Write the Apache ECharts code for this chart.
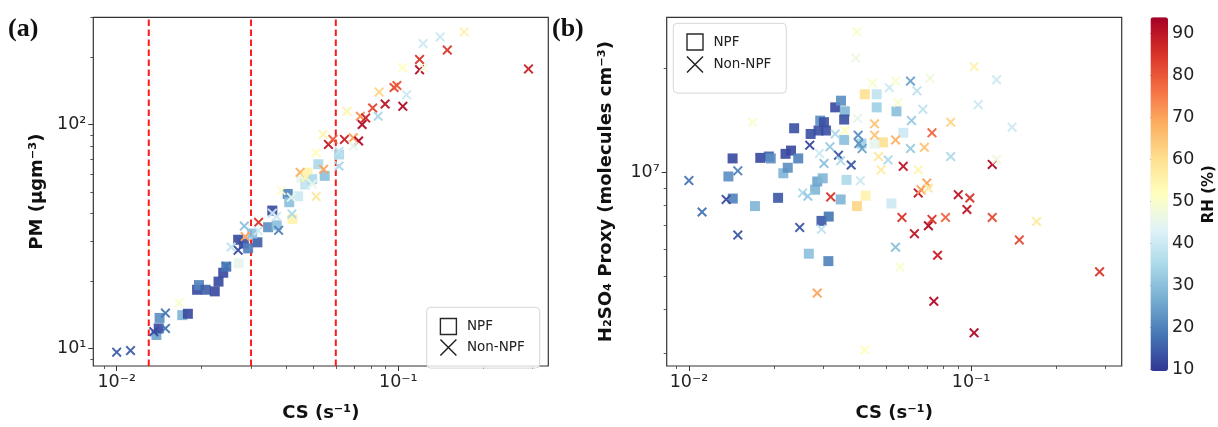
<!DOCTYPE html>
<html><head><meta charset="utf-8">
<script src="https://cdn.jsdelivr.net/npm/echarts@6/dist/echarts.min.js"></script>
<style>html,body{margin:0;padding:0;background:#fff}#c{width:1218px;height:427px}</style>
</head><body><div id="c"></div>
<script>
// ---------- Panel (a): PM vs CS ----------
const aNpfCS = [0.01384,0.0141,0.0142,0.0171,0.0179,0.0193,0.0196,0.0207,0.0223,0.0230,0.0239,0.0245,0.0271,0.0270,0.0283,0.0293,0.0316,0.0303,0.0345,0.0357,0.0370,0.0405,0.0421,0.0410,0.0453,0.0476,0.0520,0.0548,0.0616,0.0441,0.0467,0.0495];
const aNpfPM = [11.5,12.3,13.7,14.1,14.3,18.3,19.2,18.3,18.0,19.9,21.8,23.2,24.0,30.6,29.4,28.0,29.8,32.6,34.8,41.3,35.5,49.0,37.9,45.0,58.0,61.0,66.5,59.0,73.5,47.8,54.0,57.0];
const aNpfRH = [25,12,22,28,12,12,20,15,12,12,12,18,45,12,13,20,15,30,22,12,30,20,55,30,45,55,35,30,35,40,38,35];

const aNonCS = [0.0100,0.0112,0.01355,0.0149,0.0149,0.01667,0.0245,0.0255,0.0270,0.0284,0.0286,0.0319,0.0318,0.0357,0.0376,0.0370,0.0384,0.0419,0.0417,0.0448,0.0470,0.0511,0.0511,0.0495,0.0541,0.0543,0.0565,0.0586,0.0616,0.0644,0.0692,0.0723,0.0658,0.0733,0.0744,0.0766,0.0811,0.0848,0.0855,0.0898,0.0966,0.0989,0.1038,0.107,0.1038,0.119,0.119,0.123,0.1225,0.1408,0.1493,0.1715,0.29,0.0692,0.0616];
const aNonPM = [9.64,9.8,11.9,14.4,12.3,16.0,23.3,28.4,27.5,35.2,31.6,36.6,33.6,40.2,33.7,38.9,50.7,39.9,47.3,61.1,58.0,47.7,74.8,54.2,90.3,63.1,81.5,85.8,65.3,85.8,87.3,84.4,114.6,108.9,100,107,118.5,108.9,139.6,123.5,146.3,149.3,120.6,135.8,179.6,195.3,175.4,179.6,230,246,214.9,259,177,80,76];
const aNonRH = [15,15,12,18,18,50,18,38,12,30,70,85,40,40,20,40,50,35,45,68,55,58,52,45,55,70,90,80,35,88,70,92,55,72,92,88,82,35,62,90,82,80,92,40,52,85,92,48,40,40,85,55,88,45,38];

// ---------- Panel (b): H2SO4 proxy vs CS ----------
const bNpfCS = [0.01428,0.0138,0.0143,0.01714,0.0179,0.0192,0.0195,0.0207,0.0216,0.0220,0.0224,0.0230,0.0236,0.0244,0.0266,0.0270,0.0280,0.0285,0.0292,0.0288,0.0301,0.0306,0.0298,0.0295,0.0313,0.0312,0.0330,0.0346,0.0357,0.0355,0.0355,0.0345,0.0362,0.0420,0.0423,0.0394,0.0463,0.0463,0.0487,0.0544,0.0522,0.0575,0.0409,0.0455];
const bNpfH = [1.096e7,9.72e6,8.39e6,7.98e6,1.10e7,1.11e7,1.096e7,8.43e6,9.93e6,1.13e7,1.03e7,1.155e7,1.34e7,1.096e7,5.81e6,1.29e7,8.9e6,9.4e6,1.41e7,1.32e7,1.395e7,1.32e7,9.6e6,7.23e6,7.44e6,5.53e6,1.54e7,1.61e7,1.50e7,1.42e7,1.24e7,8.34e6,9.5e6,1.68e7,8.55e6,7.98e6,1.68e7,1.54e7,1.22e7,1.50e7,8.12e6,1.30e7,1.21e7,1.21e7];
const bNpfRH = [12,22,20,28,12,15,22,14,28,12,22,12,13,20,30,13,28,25,22,13,13,13,28,14,18,20,12,22,28,13,30,28,35,60,55,62,38,33,60,30,40,40,33,45];

const bNonCS = [0.0100,0.01113,0.01355,0.0149,0.0149,0.0168,0.0247,0.0253,0.0264,0.0268,0.0285,0.0290,0.0295,0.0301,0.0318,0.0316,0.0330,0.0339,0.0345,0.0357,0.0376,0.0398,0.0400,0.0411,0.0394,0.0390,0.0396,0.0420,0.0405,0.0447,0.0455,0.0455,0.0470,0.0480,0.0513,0.0508,0.0540,0.0540,0.0540,0.0559,0.0550,0.0569,0.0575,0.0610,0.0615,0.0610,0.0630,0.0643,0.0650,0.0650,0.0665,0.0675,0.0683,0.0697,0.0706,0.0706,0.0727,0.0715,0.0727,0.0738,0.0761,0.0812,0.0847,0.0847,0.0901,0.0967,0.0990,0.1025,0.1025,0.1060,0.1189,0.1189,0.1232,0.1232,0.1398,0.1483,0.1707,0.2855];
const bNonH = [9.46e6,7.67e6,8.34e6,1.009e7,6.58e6,1.395e7,6.92e6,8.71e6,8.52e6,1.197e7,4.47e6,1.133e7,6.84e6,1.06e7,8.48e6,1.184e7,1.29e7,1.12e7,1.08e7,1.32e7,1.049e7,1.28e7,1.21e7,1.17e7,2.55e7,2.14e7,1.43e7,3.06e6,9.45e6,1.81e7,1.38e7,1.28e7,1.11e7,1.016e7,1.756e7,1.085e7,1.835e7,1.24e7,6.07e6,5.32e6,1.59e7,7.4e6,1.04e7,1.835e7,1.41e7,1.17e7,6.64e6,1.72e7,1.016e7,8.71e6,8.9e6,1.52e7,1.18e7,9.3e6,9.0e6,7.0e6,7.3e6,1.87e7,1.30e7,4.23e6,5.75e6,7.4e6,1.395e7,1.11e7,8.61e6,7.8e6,8.42e6,3.43e6,2.02e7,1.568e7,1.053e7,7.4e6,1.09e7,1.85e7,1.35e7,6.37e6,7.2e6,5.15e6];
const bNonRH = [18,18,12,20,14,50,14,35,32,12,70,40,38,30,85,32,35,14,35,52,14,22,22,25,50,47,45,52,40,50,65,65,58,57,40,35,50,68,30,50,50,85,90,25,32,32,90,38,55,90,70,38,65,70,58,92,85,47,78,92,88,78,62,35,90,90,85,92,55,40,92,82,47,40,40,82,57,85];

// ---------- Axes / ticks ----------
const xRange = [0.00826, 0.341];
const xRangeB = [0.00834, 0.342];
const aYRange = [8.36, 301];
const bYRange = [2.75e6, 2.806e7];
const xTickVals = [0.01, 0.1];
const xTickLabels = ['10⁻²', '10⁻¹'];
const aYTickVals = [10, 100];
const aYTickLabels = ['10¹', '10²'];
const bYTickVals = [1e7];
const bYTickLabels = ['10⁷'];
const xMinor = [0.009,0.02,0.03,0.04,0.05,0.06,0.07,0.08,0.09,0.2,0.3];
const aYMinor = [9,20,30,40,50,60,70,80,90,200,300];
const bYMinor = [3e6,4e6,5e6,6e6,7e6,8e6,9e6,2e7];
const csThresholds = [0.013, 0.03, 0.06];
const rhRange = [9.6, 93.8];
const rhTicks = [10,20,30,40,50,60,70,80,90];
const rhColors = ['#313695','#4575b4','#74add1','#abd9e9','#e0f3f8','#ffffbf','#fee090','#fdae61','#f46d43','#d73027','#a50026'];

function zip3(a,b,c){ return a.map((v,i)=>[v,b[i],c[i]]); }
function lbl(vals, labels){ return function(v){ let best=0,d=1e9; vals.forEach((t,i)=>{const dd=Math.abs(Math.log10(t)-Math.log10(v)); if(dd<d){d=dd;best=i;}}); return labels[best]; }; }

const xPath = 'path://M1.4,0L5,3.6L8.6,0L10,1.4L6.4,5L10,8.6L8.6,10L5,6.4L1.4,10L0,8.6L3.6,5L0,1.4Z';
const legSq = 'path://M0,0L10,0L10,10L0,10Z';
const legX = 'path://M0,0L10,10M10,0L0,10';

const FONT = 'DejaVu Sans';
const tickLabel = {fontFamily: FONT, fontSize: 17.5, color: '#222'};
const nameStyle = {fontFamily: FONT, fontSize: 18, fontWeight: 'bold', color: '#111'};

function mainLog(grid, range, vals, labels, extra){
  return Object.assign({
    type: 'log', logBase: 10, gridIndex: grid, min: range[0], max: range[1],
    axisLine: {show: false},
    axisTick: {show: true, length: 5, customValues: vals, lineStyle: {color: '#333', width: 1}},
    axisLabel: Object.assign({show: true, customValues: vals, formatter: lbl(vals, labels), margin: 7}, tickLabel),
    splitLine: {show: false}, minorTick: {show: false}
  }, extra);
}
function minorLog(grid, range, vals, pos){
  return {
    type: 'log', logBase: 10, gridIndex: grid, min: range[0], max: range[1], position: pos,
    axisLine: {show: false},
    axisTick: {show: true, length: 3, customValues: vals, lineStyle: {color: '#333', width: 0.8}},
    axisLabel: {show: false}, splitLine: {show: false}
  };
}

const legendBase = {
  orient: 'vertical', itemWidth: 27, itemHeight: 16, symbolKeepAspect: true, selectedMode: false,
  backgroundColor: 'rgba(255,255,255,0.8)', borderColor: '#d6d6d6', borderWidth: 1, borderRadius: 4,
  textStyle: {fontFamily: FONT, fontSize: 13.5, color: '#222'},
  data: [
    {name: 'NPF', icon: legSq, itemStyle: {color: 'rgba(0,0,0,0)', borderColor: '#111', borderWidth: 1.4}},
    {name: 'Non-NPF', icon: legX, itemStyle: {color: 'rgba(0,0,0,0)', borderColor: '#111', borderWidth: 1.4}}
  ]
};

const thresholdSeries = csThresholds.map(v => ({
  name: 'CS threshold ' + v, type: 'line', xAxisIndex: 0, yAxisIndex: 0, silent: true,
  symbol: 'none', data: [[v, aYRange[0]], [v, aYRange[1]]], z: 1,
  lineStyle: {color: '#ff1a1a', type: [6.5, 3.5], width: 2}
}));

const option = {
  animation: false,
  backgroundColor: '#fff',
  grid: [
    {left: 93.3, top: 17.3, width: 455, height: 355.4, show: true, borderColor: '#333', borderWidth: 1.2, backgroundColor: 'transparent', containLabel: false},
    {left: 666.7, top: 17.3, width: 455, height: 354.7, show: true, borderColor: '#333', borderWidth: 1.2, backgroundColor: 'transparent', containLabel: false},
    {left: 1150.5, top: 17.3, width: 17.5, height: 353.7, show: false}
  ],
  xAxis: [
    mainLog(0, xRange, xTickVals, xTickLabels, {position: 'bottom', name: 'CS (s⁻¹)', nameLocation: 'middle', nameGap: 38, nameTextStyle: nameStyle}),
    minorLog(0, xRange, xMinor, 'bottom'),
    mainLog(1, xRangeB, xTickVals, xTickLabels, {position: 'bottom', name: 'CS (s⁻¹)', nameLocation: 'middle', nameGap: 38, nameTextStyle: nameStyle}),
    minorLog(1, xRangeB, xMinor, 'bottom'),
    {type: 'value', gridIndex: 2, show: false, min: 0, max: 1}
  ],
  yAxis: [
    mainLog(0, aYRange, aYTickVals, aYTickLabels, {position: 'left', name: 'PM (μgm⁻³)', nameLocation: 'middle', nameGap: 47, nameTextStyle: nameStyle}),
    minorLog(0, aYRange, aYMinor, 'left'),
    mainLog(1, bYRange, bYTickVals, bYTickLabels, {position: 'left', name: 'H₂SO₄ Proxy (molecules cm⁻³)', nameLocation: 'middle', nameGap: 51, nameTextStyle: nameStyle}),
    minorLog(1, bYRange, bYMinor, 'left'),
    {type: 'value', gridIndex: 2, position: 'right', min: rhRange[0], max: rhRange[1],
     axisLine: {show: false}, splitLine: {show: false},
     axisTick: {show: true, length: 4, customValues: rhTicks, lineStyle: {color: '#333'}},
     axisLabel: Object.assign({show: true, customValues: rhTicks, margin: 5}, tickLabel),
     name: 'RH (%)', nameLocation: 'middle', nameRotate: 90, nameGap: 35,
     nameTextStyle: Object.assign({}, nameStyle, {fontSize: 15})}
  ],
  visualMap: [{
    type: 'continuous', min: rhRange[0], max: rhRange[1], dimension: 2, seriesIndex: [0,1,2,3],
    inRange: {color: rhColors}, left: 1150.5, top: 17.3, itemWidth: 17.5, itemHeight: 353.7,
    padding: 0, calculable: false, showLabel: false, text: null, hoverLink: false, realtime: false
  }],
  legend: [
    Object.assign({}, legendBase, {left: 426.7, top: 307.3, padding: [10.5, 15, 12, 13], itemGap: 3.5}),
    Object.assign({}, legendBase, {left: 673.3, top: 23.3, padding: [10, 15, 20, 13], itemGap: 5})
  ],
  graphic: [
    {type: 'text', left: 8, top: 16, style: {text: '(a)', font: 'bold 26px "Liberation Serif"', fill: '#111'}},
    {type: 'text', left: 552, top: 16, style: {text: '(b)', font: 'bold 26px "Liberation Serif"', fill: '#111'}}
  ],
  series: [
    {name: 'NPF', type: 'scatter', xAxisIndex: 0, yAxisIndex: 0, symbol: 'rect', symbolSize: 10,
     itemStyle: {opacity: 0.9}, data: zip3(aNpfCS, aNpfPM, aNpfRH), z: 2},
    {name: 'Non-NPF', type: 'scatter', xAxisIndex: 0, yAxisIndex: 0, symbol: xPath, symbolSize: 10,
     itemStyle: {opacity: 0.95}, data: zip3(aNonCS, aNonPM, aNonRH), z: 3},
    {name: 'NPF', type: 'scatter', xAxisIndex: 2, yAxisIndex: 2, symbol: 'rect', symbolSize: 10,
     itemStyle: {opacity: 0.9}, data: zip3(bNpfCS, bNpfH, bNpfRH), z: 2},
    {name: 'Non-NPF', type: 'scatter', xAxisIndex: 2, yAxisIndex: 2, symbol: xPath, symbolSize: 10,
     itemStyle: {opacity: 0.95}, data: zip3(bNonCS, bNonH, bNonRH), z: 3}
  ].concat(thresholdSeries)
};

const chart = echarts.init(document.getElementById('c'), null, {renderer: 'canvas'});
chart.setOption(option);
</script></body></html>
